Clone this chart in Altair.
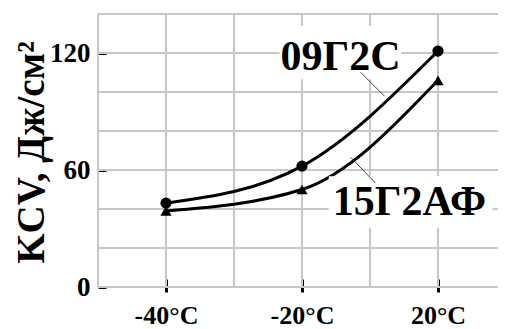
import altair as alt
import pandas as pd

# ---- data ----
temps = ["-40°C", "-20°C", "20°C"]
pos = [0, 1, 2]
kcv_09g2s = [43, 62, 121]
kcv_15g2af = [39, 50, 106]
series_names = ["09Г2С", "15Г2АФ"]
marker_shapes = ["circle", "triangle-up"]

y_grid = [0, 20, 40, 60, 80, 100, 120, 140]
y_labelled = [0, 60, 120]
x_grid = [-0.5, 0, 0.5, 1, 1.5, 2, 2.5]

# annotation labels (data units)
label_text = ["09Г2С", "15Г2АФ"]
label_x = [1.283, 1.79]
label_y = [111.3, 37.0]
box_x = [0.835, 1.197]
box_x2 = [1.730, 2.401]
box_y = [133.9, 56.8]
box_y2 = [106.5, 30.4]
lead_x = [1.431, 1.358]
lead_x2 = [1.606, 1.540]
lead_y = [110.1, 66.5]
lead_y2 = [97.9, 53.3]

rows = []
for name, vals in zip(series_names, [kcv_09g2s, kcv_15g2af]):
    for p, t, v in zip(pos, temps, vals):
        rows.append({"series": name, "pos": p, "temp": t, "kcv": v})
df = pd.DataFrame(rows)

ann = pd.DataFrame({
    "text": label_text, "lx": label_x, "ly": label_y,
    "bx": box_x, "bx2": box_x2, "by": box_y, "by2": box_y2,
    "ax": lead_x, "ax2": lead_x2, "ay": lead_y, "ay2": lead_y2,
})
gx = pd.DataFrame({"gx": x_grid})
gy = pd.DataFrame({"gy": y_grid})

FONT = "Liberation Serif"
GRID = "#c8c8c8"
xs = alt.Scale(domain=[-0.5, 2.5], range=[0, 408], nice=False, zero=False)
ys = alt.Scale(domain=[0, 140], nice=False, zero=False)

label_arr = "[" + ",".join("'" + t + "'" for t in temps) + "]"

x_axis = alt.Axis(
    values=pos, grid=False, domain=False, offset=-8, tickSize=13, tickWidth=3,
    tickColor="black",
    labelExpr=f"{label_arr}[datum.value]",
    labelFont=FONT, labelFontSize=26, labelFontWeight="bold", labelColor="black",
    labelPadding=10, title=None,
)
y_axis = alt.Axis(
    values=y_labelled, grid=False, domain=False, offset=-8, tickSize=8, tickWidth=3,
    tickColor="black",
    labelFont=FONT, labelFontSize=27, labelFontWeight="bold", labelColor="black",
    labelPadding=8,
    title="KCV, Дж/см²", titleFont=FONT, titleFontSize=39, titleFontWeight="bold",
    titleColor="black", titleX=-63, titleY=138, titleAngle=-90,
    titleBaseline="alphabetic", titleAlign="center",
)

grid_x = alt.Chart(gx).mark_rule(color=GRID, strokeWidth=2).encode(
    x=alt.X("gx:Q", scale=xs),
)
grid_y = alt.Chart(gy).mark_rule(color=GRID, strokeWidth=2).encode(
    y=alt.Y("gy:Q", scale=ys),
)

lines = alt.Chart(df).mark_line(interpolate="monotone", color="black", strokeWidth=3).encode(
    x=alt.X("pos:Q", scale=xs, axis=x_axis),
    y=alt.Y("kcv:Q", scale=ys, axis=y_axis),
    detail="series:N",
)

points = alt.Chart(df).mark_point(filled=True, color="black", opacity=1, size=125).encode(
    x=alt.X("pos:Q", scale=xs),
    y=alt.Y("kcv:Q", scale=ys),
    shape=alt.Shape("series:N", scale=alt.Scale(domain=series_names, range=marker_shapes), legend=None),
)

boxes = alt.Chart(ann).mark_rect(color="white", opacity=1).encode(
    x=alt.X("bx:Q", scale=xs), x2="bx2:Q",
    y=alt.Y("by:Q", scale=ys), y2="by2:Q",
)

leaders = alt.Chart(ann).mark_rule(color="#444444", strokeWidth=1).encode(
    x=alt.X("ax:Q", scale=xs), x2="ax2:Q",
    y=alt.Y("ay:Q", scale=ys), y2="ay2:Q",
)

labels = alt.Chart(ann).mark_text(
    font=FONT, fontSize=42, fontWeight="bold", color="black",
    align="center", baseline="alphabetic",
).encode(
    x=alt.X("lx:Q", scale=xs),
    y=alt.Y("ly:Q", scale=ys),
    text="text:N",
)

chart = alt.layer(grid_x, grid_y, lines, boxes, leaders, points, labels).properties(
    width=400, height=273,
    autosize=alt.AutoSizeParams(type="none"),
    padding={"left": 90, "top": 6, "right": 0, "bottom": 44},
).configure_view(stroke=None)

chart.save("out.html", embed_options={"renderer": "svg", "actions": False})
